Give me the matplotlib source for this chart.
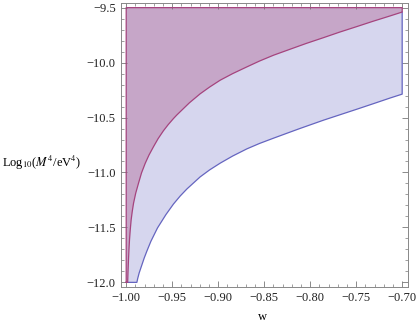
import numpy as np
import matplotlib
matplotlib.use("Agg")
import matplotlib.pyplot as plt
from matplotlib.ticker import MultipleLocator

plt.rcParams['font.family'] = ['Liberation Serif', 'DejaVu Serif']
plt.rcParams['mathtext.fontset'] = 'stix'

# upper boundary (magenta curve)
w_up = [-0.9984, -0.9980, -0.9975, -0.9970, -0.9964, -0.99559, -0.9946, -0.99343,
        -0.9920, -0.98965, -0.9866, -0.98335, -0.9793, -0.9752, -0.9703, -0.9653,
        -0.9595, -0.9544, -0.9486, -0.9451, -0.9413, -0.9313, -0.9196, -0.9094,
        -0.8978, -0.8842, -0.8688, -0.8551, -0.8399, -0.8217, -0.8044, -0.7855,
        -0.7681, -0.7492, -0.7317, -0.7130, -0.7000]
m_up = [-12.0, -11.897, -11.793, -11.703, -11.612, -11.521, -11.430, -11.355,
        -11.279, -11.188, -11.097, -11.004, -10.916, -10.841, -10.765, -10.692,
        -10.620, -10.565, -10.509, -10.478, -10.447, -10.366, -10.284, -10.223,
        -10.160, -10.100, -10.039, -9.986, -9.933, -9.878, -9.826, -9.773,
        -9.723, -9.672, -9.624, -9.575, -9.540]

# lower boundary (blue curve)
w_lo = [-0.9884, -0.9875, -0.9859, -0.9804, -0.9775, -0.9732, -0.9660, -0.9568,
        -0.9486, -0.9413, -0.9340, -0.9196, -0.9094, -0.8978, -0.8842, -0.8688,
        -0.8551, -0.8399, -0.8217, -0.8109, -0.7855, -0.7681, -0.7492, -0.7317,
        -0.7130, -0.7000]
m_lo = [-12.0, -11.965, -11.914, -11.778, -11.715, -11.627, -11.505, -11.383,
        -11.287, -11.214, -11.150, -11.040, -10.977, -10.915, -10.850, -10.785,
        -10.736, -10.688, -10.632, -10.599, -10.524, -10.476, -10.424, -10.375,
        -10.322, -10.287]

w_min, w_max = -1.0, -0.70
m_min, m_max = -12.0, -9.5

purple_fill = "#c6a6c8"
blue_fill = "#d6d6ee"
purple_line = "#a5447e"
blue_line = "#6565c0"

fig = plt.figure(figsize=(4.17, 3.29), dpi=100)
ax = fig.add_axes([0.2894, 0.1267, 0.6883, 0.8651])

# blue band (everything above lower curve)
bx = [w_min] + w_lo + [w_max, w_min]
by = [m_min] + m_lo + [m_max, m_max]
ax.fill(bx, by, color=blue_fill, lw=0)

# purple region (above upper curve)
px = [w_min] + w_up + [w_max, w_min]
py = [m_min] + m_up + [m_max, m_max]
ax.fill(px, py, color=purple_fill, lw=0)

# edges
ax.plot([w_min] + w_lo + [w_max, w_max], [m_min] + m_lo + [m_up[-1], m_up[-1]],
        color=blue_line, lw=0.9)
ax.plot(px + [w_min], py + [m_min], color=purple_line, lw=0.9)

ax.set_xlim(-1.006, -0.694)
ax.set_ylim(-12.045, -9.455)
ax.xaxis.set_major_locator(MultipleLocator(0.05))
ax.xaxis.set_minor_locator(MultipleLocator(0.01))
ax.yaxis.set_major_locator(MultipleLocator(0.5))
ax.yaxis.set_minor_locator(MultipleLocator(0.1))
ax.xaxis.set_major_formatter(plt.FuncFormatter(lambda v, p: f"\u2212{abs(v):.2f}"))
ax.yaxis.set_major_formatter(plt.FuncFormatter(lambda v, p: f"\u2212{abs(v):.1f}"))
ax.tick_params(which='both', direction='in', top=True, right=True, color='#777777',
               labelsize=9, labelcolor='#222222')
ax.tick_params(which='major', length=4, width=0.6)
ax.tick_params(which='minor', length=2, width=0.5)
for s in ax.spines.values():
    s.set_color('#888888')
    s.set_linewidth(0.7)

fig.text(0.005, 0.505, r"Log$_{10}$($M^4$/eV$^4$)", fontsize=9, va='center', ha='left')
fig.text(0.63, 0.035, "w", fontsize=9, ha='center', va='center')

fig.savefig("out.png", dpi=100)
